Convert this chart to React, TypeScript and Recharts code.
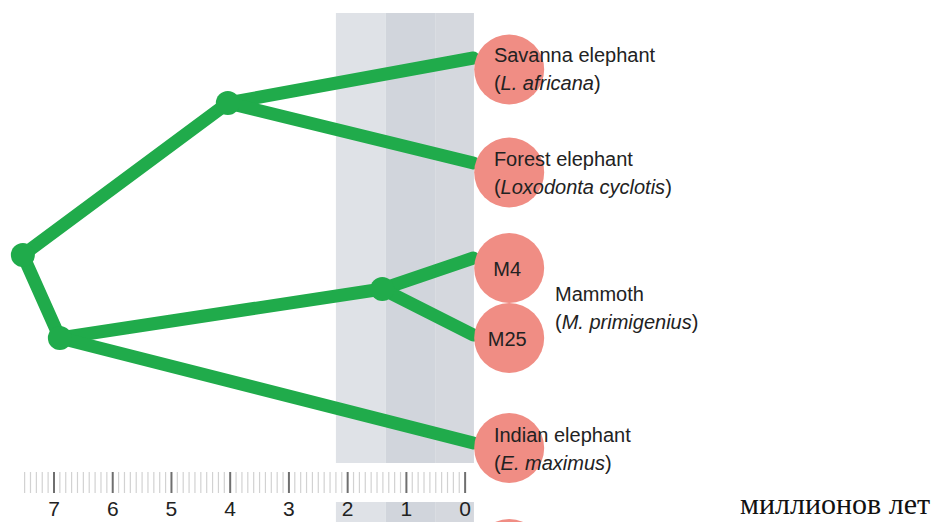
import React from 'react';
import { ComposedChart, XAxis, YAxis, Line, Scatter, ReferenceArea, ReferenceDot } from 'recharts';

const GREEN = '#20ab4b';
const PINK = '#f08d84';
const INK = '#222';
const SANS = '"Liberation Sans", Arial, Helvetica, sans-serif';

// x = millions of years before present, y = vertical slot in the tree (0 top, 47 bottom)
const NODES = [
  { id: 'root', x: 7.53, y: 25.5 },
  { id: 'loxodonta', x: 4.04, y: 10.3 },
  { id: 'elephas', x: 6.9, y: 33.8 },
  { id: 'mammoth', x: 1.41, y: 28.9 },
];

const TIPS = [
  { id: 'savanna', x: -0.14, y: 5.8 },
  { id: 'forest', x: -0.14, y: 16.3 },
  { id: 'm4', x: -0.14, y: 25.8 },
  { id: 'm25', x: -0.14, y: 33.5 },
  { id: 'indian', x: -0.14, y: 44.3 },
];

const BRANCHES = [
  ['root', 'loxodonta'],
  ['root', 'elephas'],
  ['loxodonta', 'savanna'],
  ['loxodonta', 'forest'],
  ['elephas', 'mammoth'],
  ['elephas', 'indian'],
  ['mammoth', 'm4'],
  ['mammoth', 'm25'],
];

const SAMPLES = [
  { x: -0.75, y: 6.95, tag: '' },
  { x: -0.75, y: 17.25, tag: '' },
  { x: -0.75, y: 26.8, tag: 'M4' },
  { x: -0.75, y: 33.8, tag: 'M25' },
  { x: -0.75, y: 44.8, tag: '' },
];

const SPECIES = [
  { x: -0.49, y: 6.9, name: 'Savanna elephant', latin: 'L. africana' },
  { x: -0.49, y: 17.25, name: 'Forest elephant', latin: 'Loxodonta cyclotis' },
  { x: -1.53, y: 30.8, name: 'Mammoth', latin: 'M. primigenius' },
  { x: -0.49, y: 44.85, name: 'Indian elephant', latin: 'E. maximus' },
];

const BANDS = [
  { from: 2.2, to: 1.35, fill: '#dfe2e7' },
  { from: 1.35, to: 0.5, fill: '#d1d5dc' },
  { from: 0.5, to: -0.15, fill: '#d5d8de' },
];

const MAJOR_TICKS = [7, 6, 5, 4, 3, 2, 1, 0];
const RULER_TICKS: number[] = [];
for (let i = 75; i >= 0; i--) RULER_TICKS.push(i / 10);

const points: Record<string, { x: number; y: number }> = {};
[...NODES, ...TIPS].forEach((p) => (points[p.id] = p));

const RulerTick = (props: any) => {
  const { x, y, payload } = props;
  const v = Math.round(payload.value * 10) / 10;
  const major = MAJOR_TICKS.includes(v);
  return (
    <g>
      <line
        x1={x}
        x2={x}
        y1={y + 2}
        y2={y + 23}
        stroke={major ? '#6f6f6f' : '#d2d2d2'}
        strokeWidth={major ? 2 : 1.2}
      />
      {major && (
        <text x={x} y={y + 46} textAnchor="middle" fontFamily={SANS} fontSize={21} fill={INK}>
          {v}
        </text>
      )}
    </g>
  );
};

const SampleShape = (props: any) => {
  const { cx, cy, payload } = props;
  return (
    <g>
      <circle cx={cx} cy={cy} r={35} fill={PINK} />
      {payload.tag && (
        <text x={cx - 2} y={cy + 8} textAnchor="middle" fontFamily={SANS} fontSize={20} fill={INK}>
          {payload.tag}
        </text>
      )}
    </g>
  );
};

const SpeciesShape = (props: any) => {
  const { cx, cy, payload } = props;
  return (
    <g>
      <text x={cx} y={cy - 7} fontFamily={SANS} fontSize={20} fill={INK}>
        {payload.name}
      </text>
      <text x={cx} y={cy + 21} fontFamily={SANS} fontSize={20} fill={INK}>
        (<tspan fontStyle="italic">{payload.latin}</tspan>)
      </text>
    </g>
  );
};

export default function App() {
  return (
    <div style={{ position: 'absolute', left: 0, top: 0, width: 944, height: 522, background: '#fff' }}>
      <ComposedChart width={944} height={522} margin={{ top: 0, right: 9, bottom: 0, left: 7 }}>
        <XAxis
          type="number"
          dataKey="x"
          domain={[-8, 7.8]}
          reversed
          ticks={RULER_TICKS}
          interval={0}
          tick={<RulerTick />}
          axisLine={false}
          tickLine={false}
          tickSize={0}
          tickMargin={0}
          height={52}
        />
        <YAxis type="number" dataKey="y" domain={[0, 47]} reversed hide />
        {BANDS.map((b) => (
          <ReferenceArea key={'top' + b.from} x1={b.from} x2={b.to} y1={1.3} y2={46.3} fill={b.fill} fillOpacity={1} stroke="none" ifOverflow="visible" />
        ))}
        {BANDS.map((b) => (
          <ReferenceArea key={'low' + b.from} x1={b.from} x2={b.to} y1={50.2} y2={53} fill={b.fill} fillOpacity={1} stroke="none" ifOverflow="visible" />
        ))}
        {BRANCHES.map(([a, b]) => (
          <Line
            key={a + b}
            data={[points[a], points[b]]}
            dataKey="y"
            type="linear"
            stroke={GREEN}
            strokeWidth={13}
            strokeLinecap="round"
            dot={false}
            activeDot={false}
            isAnimationActive={false}
          />
        ))}
        <Scatter data={NODES} dataKey="y" fill={GREEN} shape={(p: any) => <circle cx={p.cx} cy={p.cy} r={12} fill={GREEN} />} isAnimationActive={false} />
        <Scatter data={SAMPLES} dataKey="y" fill={PINK} shape={<SampleShape />} isAnimationActive={false} />
        <ReferenceDot x={-0.75} y={55.4} r={35} fill={PINK} stroke="none" ifOverflow="visible" />
        <Scatter data={SPECIES} dataKey="y" shape={<SpeciesShape />} isAnimationActive={false} />
      </ComposedChart>
      <div
        style={{
          position: 'absolute',
          left: 740,
          top: 490,
          fontFamily: '"Liberation Serif", "Times New Roman", serif',
          fontSize: 30,
          lineHeight: '28px',
          color: '#111',
          whiteSpace: 'nowrap',
        }}
      >
        миллионов лет
      </div>
    </div>
  );
}
